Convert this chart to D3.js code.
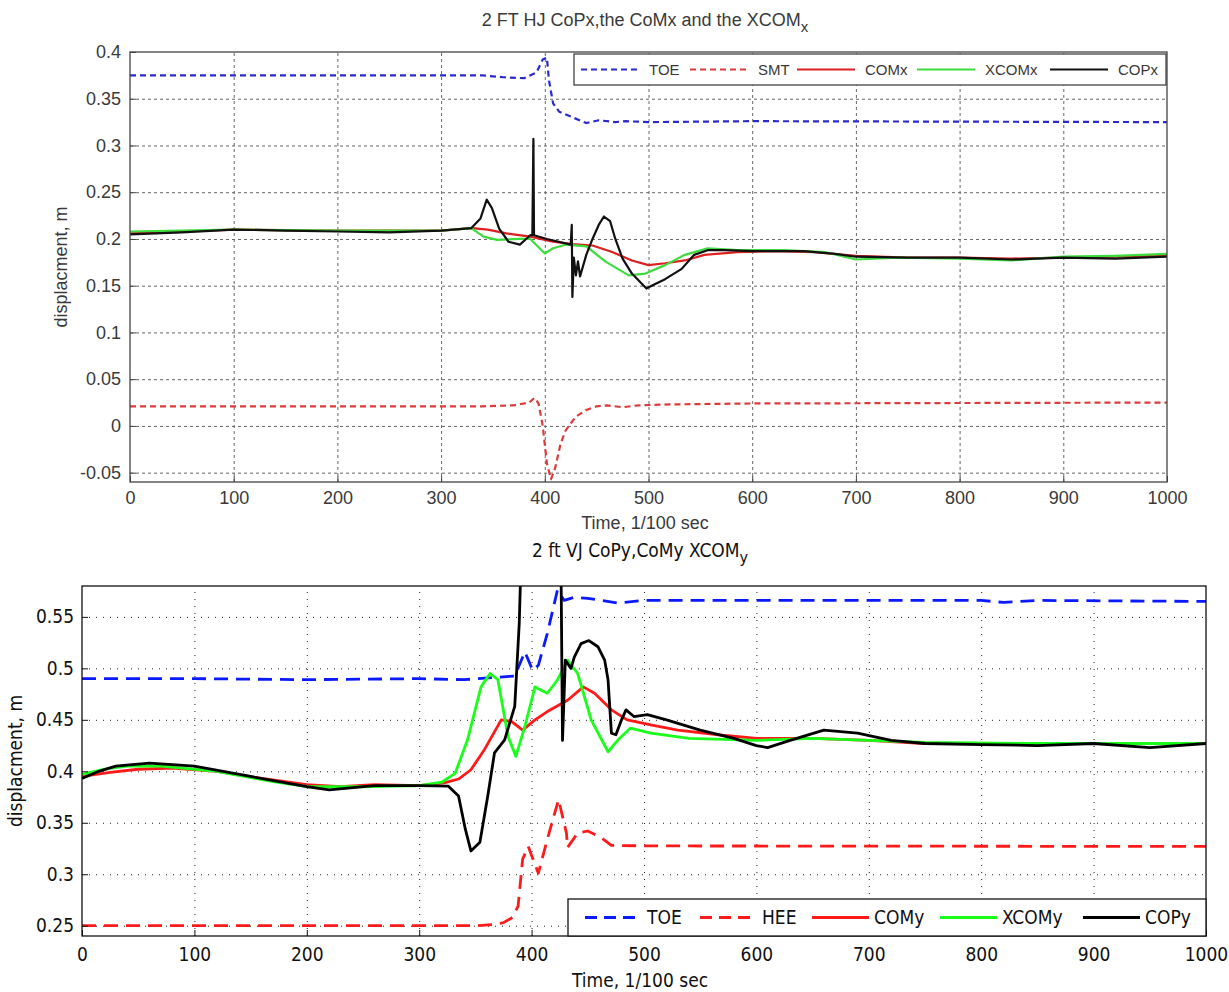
<!DOCTYPE html>
<html>
<head>
<meta charset="utf-8">
<script src="https://cdn.jsdelivr.net/npm/d3@7"></script>
<style>
  body { margin: 0; background: #fff; }
  svg { display: block; }
  .top text { font-family: "Liberation Sans", Arial, sans-serif; fill: #3a3a3a; }
  .bot text { font-family: "Liberation Sans Narrow", "DejaVu Sans Condensed", sans-serif; fill: #111; }
</style>
</head>
<body>
<svg id="chart" width="1229" height="992"></svg>
<script>
"use strict";

// ---- top panel data: 2 FT HJ (x direction) ----
var timeTicks = [0, 100, 200, 300, 400, 500, 600, 700, 800, 900, 1000];
var topYTicks = [-0.05, 0, 0.05, 0.1, 0.15, 0.2, 0.25, 0.3, 0.35, 0.4];
var topNames = ["TOE", "SMT", "COMx", "XCOMx", "COPx"];

var toeX = [[0,0.375],[100,0.375],[200,0.375],[300,0.375],[340,0.375],[360,0.373],[380,0.372],[392,0.378],[398,0.392],[402,0.394],[404,0.37],[408,0.345],[414,0.336],[427,0.33],[440,0.324],[452,0.327],[468,0.325],[478,0.326],[500,0.325],[600,0.326],[1000,0.325]];
var smtX = [[0,0.021],[300,0.021],[340,0.021],[370,0.022],[385,0.025],[390,0.03],[394,0.024],[398,0.0],[402,-0.04],[406,-0.057],[410,-0.045],[415,-0.02],[420,-0.005],[430,0.01],[440,0.017],[450,0.021],[460,0.022],[475,0.02],[490,0.022],[520,0.023],[600,0.024],[1000,0.025]];
var comX = [[0,0.206],[50,0.208],[100,0.21],[200,0.209],[300,0.209],[330,0.2115],[345,0.21],[363,0.206],[386,0.2025],[408,0.197],[427,0.1945],[446,0.193],[465,0.186],[484,0.177],[500,0.172],[516,0.174],[535,0.177],[554,0.183],[586,0.186],[620,0.187],[660,0.186],[700,0.182],[750,0.18],[800,0.18],[850,0.179],[900,0.18],[950,0.181],[1000,0.182]];
var xcomX = [[0,0.208],[50,0.209],[100,0.21],[200,0.209],[300,0.209],[329,0.2115],[341,0.2025],[354,0.199],[376,0.2],[386,0.2],[400,0.1845],[408,0.19],[421,0.194],[440,0.192],[459,0.1755],[481,0.161],[497,0.163],[516,0.172],[535,0.183],[557,0.19],[586,0.188],[630,0.188],[670,0.186],[700,0.178],[740,0.18],[800,0.179],[850,0.177],[900,0.181],[950,0.182],[1000,0.184]];
var copX = [[0,0.205],[50,0.207],[100,0.21],[150,0.209],[200,0.208],[250,0.207],[300,0.209],[329,0.2115],[338,0.222],[344,0.242],[349,0.233],[356,0.211],[365,0.197],[376,0.194],[386,0.204],[388,0.204],[389,0.307],[389.6,0.204],[402,0.2],[421,0.195],[425,0.194],[426,0.215],[426.6,0.138],[428,0.18],[430,0.161],[432,0.176],[434,0.16],[440,0.183],[446,0.2],[452,0.215],[457,0.224],[463,0.219],[468,0.2],[475,0.179],[484,0.163],[498,0.147],[503,0.15],[516,0.157],[532,0.168],[544,0.183],[557,0.188],[573,0.188],[600,0.187],[650,0.187],[680,0.184],[700,0.181],[750,0.18],[800,0.18],[850,0.178],[900,0.18],[950,0.179],[1000,0.181]];

// ---- bottom panel data: 2 ft VJ (y direction) ----
var botYTicks = [0.25, 0.3, 0.35, 0.4, 0.45, 0.5, 0.55];
var botNames = ["TOE", "HEE", "COMy", "XCOMy", "COPy"];

var toeY = [[0,0.49],[100,0.49],[200,0.489],[300,0.49],[340,0.489],[385,0.4926],[394,0.516],[401,0.498],[406,0.503],[414,0.534],[423,0.576],[429,0.566],[438,0.569],[450,0.568],[477,0.5635],[500,0.566],[600,0.566],[800,0.566],[820,0.564],[850,0.566],[1000,0.565]];
var heeY = [[0,0.25],[300,0.25],[350,0.25],[365,0.251],[375,0.253],[383,0.258],[388,0.269],[392,0.3145],[397,0.327],[406,0.301],[414,0.334],[424,0.3725],[431,0.34],[432,0.326],[441,0.34],[450,0.342],[462,0.3355],[471,0.328],[503,0.3275],[1000,0.327]];
var comY = [[0,0.395],[25,0.399],[50,0.402],[80,0.403],[120,0.4],[160,0.393],[200,0.387],[230,0.385],[260,0.387],[300,0.386],[323,0.389],[335,0.3925],[346,0.4015],[358,0.421],[373,0.45],[382,0.4485],[392,0.44],[403,0.45],[414,0.458],[432,0.469],[446,0.482],[456,0.4758],[471,0.4597],[485,0.45],[506,0.445],[530,0.44],[570,0.435],[600,0.432],[650,0.432],[700,0.43],[750,0.427],[1000,0.427]];
var xcomY = [[0,0.397],[20,0.402],[40,0.405],[70,0.405],[120,0.4],[170,0.39],[200,0.385],[250,0.385],[300,0.386],[320,0.3894],[332,0.398],[343,0.4306],[355,0.482],[363,0.495],[370,0.489],[379,0.434],[386,0.4145],[394,0.4435],[403,0.482],[414,0.4758],[423,0.4887],[432,0.508],[441,0.495],[453,0.45],[468,0.419],[477,0.4306],[488,0.442],[506,0.437],[540,0.432],[600,0.43],[650,0.432],[700,0.43],[750,0.428],[850,0.427],[1000,0.427]];
var copY = [[0,0.393],[15,0.4],[30,0.405],[60,0.408],[100,0.405],[150,0.395],[200,0.385],[220,0.382],[260,0.386],[300,0.386],[326,0.3855],[335,0.376],[341,0.344],[346,0.3226],[354,0.331],[361,0.376],[367,0.418],[376,0.4306],[385,0.463],[389,0.5435],[391,0.62],[426,0.62],[427.5,0.43],[430,0.508],[435,0.5],[438,0.511],[444,0.524],[451,0.527],[459,0.521],[465,0.508],[468,0.489],[471,0.437],[475,0.4355],[480,0.45],[484,0.4597],[491,0.4532],[503,0.455],[520,0.45],[550,0.44],[580,0.432],[600,0.425],[610,0.423],[630,0.43],[660,0.44],[690,0.437],[720,0.43],[750,0.427],[800,0.426],[850,0.425],[900,0.427],[950,0.423],[1000,0.427]];

var svg = d3.select("#chart");

function fmt(d) { return String(+d.toFixed(2)); }

function drawPanel(p) {
  var g = svg.append("g").attr("class", p.cls);
  var w = p.right - p.left, h = p.bottom - p.top;
  var x = d3.scaleLinear().domain([0, 1000]).range([p.left, p.right]);
  var y = d3.scaleLinear().domain(p.yDomain).range([p.bottom, p.top]);

  // grid
  g.append("g")
    .attr("transform", "translate(0," + p.bottom + ")")
    .call(d3.axisBottom(x).tickValues(timeTicks.slice(1, -1)).tickSize(-h).tickFormat(""))
    .call(function(a) { a.select(".domain").remove(); })
    .selectAll("line").attr("stroke", p.gridColor).attr("stroke-dasharray", p.gridDash);
  g.append("g")
    .attr("transform", "translate(" + p.left + ",0)")
    .call(d3.axisLeft(y).tickValues(p.yTicks.filter(function(v) { return y(v) > p.top + 2; })).tickSize(-w).tickFormat(""))
    .call(function(a) { a.select(".domain").remove(); })
    .selectAll("line").attr("stroke", p.gridColor).attr("stroke-dasharray", p.gridDash);

  // lines
  var clipId = "clip-" + p.cls;
  svg.append("clipPath").attr("id", clipId).append("rect")
    .attr("x", p.left).attr("y", p.top).attr("width", w).attr("height", h);
  var line = d3.line().x(function(d) { return x(d[0]); }).y(function(d) { return y(d[1]); });
  g.append("g").attr("clip-path", "url(#" + clipId + ")")
    .selectAll("path").data(p.series).enter().append("path")
    .attr("d", function(d) { return line(d.values); })
    .attr("fill", "none")
    .attr("stroke", function(d) { return d.color; })
    .attr("stroke-width", p.lineWidth)
    .attr("stroke-linejoin", "round")
    .attr("stroke-dasharray", function(d) { return d.dashed ? p.dash : null; });

  // axes, inward ticks
  var ax = g.append("g").attr("transform", "translate(0," + p.bottom + ")")
    .call(d3.axisBottom(x).tickValues(timeTicks).tickSizeInner(-6).tickSizeOuter(0).tickPadding(p.xPad).tickFormat(d3.format("d")));
  var ay = g.append("g").attr("transform", "translate(" + p.left + ",0)")
    .call(d3.axisLeft(y).tickValues(p.yTicks).tickSizeInner(-6).tickSizeOuter(0).tickPadding(p.yPad).tickFormat(fmt));
  [ax, ay].forEach(function(a) {
    a.selectAll("text").attr("font-size", p.tickFont).attr("font-family", null).attr("fill", null);
    a.select(".domain").remove();
    a.selectAll("line").attr("stroke", p.axisColor);
  });
  g.append("rect").attr("x", p.left).attr("y", p.top).attr("width", w).attr("height", h)
    .attr("fill", "none").attr("stroke", p.axisColor).attr("stroke-width", 1.3);

  // titles
  var t = g.append("text").attr("x", p.titleX).attr("y", p.titleY).attr("text-anchor", "middle")
    .attr("font-size", p.titleFont);
  t.append("tspan").text(p.title);
  t.append("tspan").attr("dy", 6).attr("font-size", p.titleFont - 3).text(p.titleSub);
  g.append("text").attr("x", p.titleX).attr("y", p.xLabelY).attr("text-anchor", "middle")
    .attr("font-size", p.labelFont).text("Time, 1/100 sec");
  g.append("text").attr("transform", "translate(" + p.yLabelX + "," + (p.top + h / 2) + ") rotate(-90)")
    .attr("text-anchor", "middle").attr("font-size", p.labelFont).text("displacment, m");

  // legend
  var L = p.legend;
  g.append("rect").attr("x", L.x).attr("y", L.y).attr("width", L.w).attr("height", L.h)
    .attr("fill", "#fff").attr("stroke", p.axisColor).attr("stroke-width", 1.3);
  var item = g.selectAll(".leg").data(p.series).enter().append("g")
    .attr("transform", function(d, i) { return "translate(" + L.pos[i] + "," + (L.y + L.h / 2) + ")"; });
  item.append("line").attr("x1", 0).attr("x2", L.lineLen).attr("y1", 0).attr("y2", 0)
    .attr("stroke", function(d) { return d.color; }).attr("stroke-width", p.lineWidth)
    .attr("stroke-dasharray", function(d) { return d.dashed ? L.dash : null; });
  item.append("text").attr("x", L.lineLen + L.gap).attr("dy", "0.35em")
    .attr("font-size", L.font).text(function(d) { return d.name; });
}

var topColors = ["#2a2ad0", "#dd3a3a", "#dd2020", "#3ddc3d", "#111"];
drawPanel({
  cls: "top", left: 130, right: 1167, top: 52, bottom: 482,
  yDomain: [-0.06, 0.4], yTicks: topYTicks,
  gridColor: "#666", gridDash: "3,3", axisColor: "#444",
  lineWidth: 2.2, dash: "6,4", tickFont: 18, labelFont: 18, titleFont: 18, xPad: 9, yPad: 9,
  title: "2 FT HJ CoPx,the CoMx and the XCOM", titleSub: "x",
  titleX: 645, titleY: 26, xLabelY: 529, yLabelX: 67,
  legend: { x: 574, y: 54, w: 592, h: 31, pos: [581, 690, 797, 917, 1050], lineLen: 58, gap: 10, font: 15, dash: "6,4" },
  series: [toeX, smtX, comX, xcomX, copX].map(function(v, i) {
    return { name: topNames[i], values: v, color: topColors[i], dashed: i < 2 };
  })
});

var botColors = ["#0a1aff", "#ff1a1a", "#ff1a1a", "#1aff1a", "#000"];
drawPanel({
  cls: "bot", left: 82, right: 1206, top: 586, bottom: 936,
  yDomain: [0.24, 0.58], yTicks: botYTicks,
  gridColor: "#222", gridDash: "1,6", axisColor: "#111",
  lineWidth: 2.8, dash: "14,8", tickFont: 19, labelFont: 19, titleFont: 19, xPad: 12, yPad: 8,
  title: "2 ft VJ CoPy,CoMy XCOM", titleSub: "y",
  titleX: 640, titleY: 557, xLabelY: 987, yLabelX: 22,
  legend: { x: 568, y: 899, w: 638, h: 37, pos: [585, 700, 812, 940, 1083], lineLen: 57, gap: 5, font: 19, dash: "12,7" },
  series: [toeY, heeY, comY, xcomY, copY].map(function(v, i) {
    return { name: botNames[i], values: v, color: botColors[i], dashed: i < 2 };
  })
});
</script>
</body>
</html>
